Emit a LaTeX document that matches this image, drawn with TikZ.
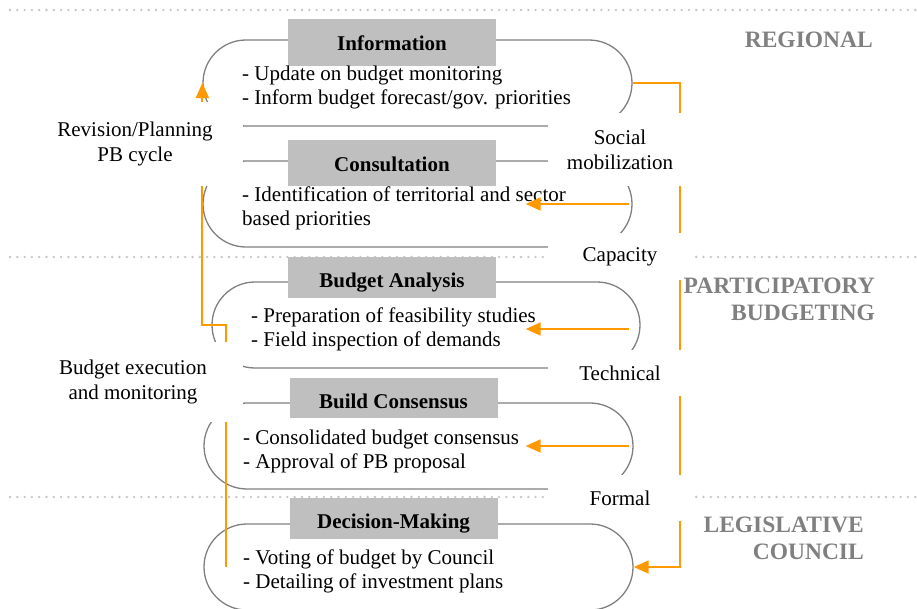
\documentclass[tikz,border=0pt]{standalone}
\usepackage{fontspec}
\setmainfont{Liberation Serif}
\usetikzlibrary{arrows.meta,shapes.misc}

\definecolor{pborange}{HTML}{FF9900}
\definecolor{pbgray}{HTML}{808080}
\definecolor{titlegray}{HTML}{BFBFBF}
\definecolor{dotgray}{HTML}{C4C4C4}

\tikzset{
  capsule/.style={rounded rectangle, draw=pbgray, line width=1.3pt,
    minimum width=429pt, minimum height=86pt, inner sep=0pt},
  titlebox/.style={fill=titlegray, minimum width=208pt, inner sep=0pt,
    text height=21pt, text depth=5pt,
    font=\fontsize{21}{24}\selectfont\bfseries},
  body/.style={anchor=west, align=left, inner sep=0pt,
    font=\fontsize{21}{24}\selectfont},
  cover/.style={fill=white, align=center, inner sep=0pt, minimum width=145pt,
    font=\fontsize{21}{25}\selectfont},
  level/.style={anchor=east, align=right, inner sep=0pt, text=pbgray,
    font=\fontsize{23.5}{27}\selectfont\bfseries},
  flow/.style={draw=pborange, line width=1.8pt},
  tip/.style={-{Triangle[length=15pt,width=13pt]}},
  separator/.style={dotgray, line width=2.6pt, line cap=round,
    dash pattern=on 0pt off 7.3pt},
}

\begin{document}
\begin{tikzpicture}[x=1pt,y=-1pt]
\useasboundingbox (0,0) rectangle (917,608);

% level separators
\draw[separator] (10,10) -- (917,10);
\draw[separator] (10,257) -- (917,257);
\draw[separator] (10,497) -- (917,497);

% stages
\node[capsule] (info) at (417.5,83) {};
\node[capsule] (consult) at (417.5,204) {};
\node[capsule, minimum width=428pt] (analysis) at (426,325) {};
\node[capsule] (consensus) at (418.5,446) {};
\node[capsule] (decision) at (418.5,567) {};

\node[titlebox, minimum height=47pt] (infotitle) at (392,42.5) {Information};
\node[titlebox, minimum height=46pt] (consulttitle) at (392,163) {Consultation};
\node[titlebox, minimum height=41pt, text height=24pt] (analysistitle) at (392,277.5) {Budget Analysis};
\node[titlebox, minimum height=40pt, text height=25pt] (consensustitle) at (393.5,398) {Build Consensus};
\node[titlebox, minimum height=41pt, text height=24pt] (decisiontitle) at (393.5,518.5) {Decision-Making};

\node[body] (infotext) at (242,87) {- Update on budget monitoring\\- Inform budget forecast/gov. priorities};
\node[body] (consulttext) at (242,208.5) {- Identification of territorial and sector\\based priorities};
\node[body] (analysistext) at (251,329) {- Preparation of feasibility studies\\- Field inspection of demands};
\node[body] (consensustext) at (243,451) {- Consolidated budget consensus\\- Approval of PB proposal};
\node[body] (decisiontext) at (243,571) {- Voting of budget by Council\\- Detailing of investment plans};

% right rail
\coordinate (railtop) at (680,83);
\coordinate (railbot) at (680,567);
\draw[flow, tip] (info.east) -- (railtop) -- (railbot) -- (decision.east);
\draw[flow, tip] ([xshift=-4pt]consult.east) -- ([xshift=-107pt]consult.east);
\draw[flow, tip] ([xshift=-12pt,yshift=-4pt]analysis.east) -- ([xshift=-115pt,yshift=-4pt]analysis.east);
\draw[flow, tip] ([xshift=-5pt]consensus.east) -- ([xshift=-108pt]consensus.east);

% left rail
\coordinate (execbot) at (226,567);
\coordinate (execbend) at (226,325);
\draw[flow, tip] (execbot) -- (execbend) -| (info.west);

% side labels
\node[cover, minimum width=216pt, minimum height=84pt] (revision) at (135,144) {Revision/Planning\\PB cycle};
\node[cover, minimum width=220pt, minimum height=80pt] (execution) at (133,382) {Budget execution\\and monitoring};
\node[cover, minimum height=73pt] (social) at (620,149.5) {Social\\mobilization};
\node[cover, minimum height=47pt] (capacity) at (620,256.5) {Capacity};
\node[cover, minimum height=46pt] (technical) at (620,373) {Technical};
\node[cover, minimum height=46pt] (formal) at (620,498) {Formal};

\node[level] (regional) at (873,40) {REGIONAL};
\node[level] (pb) at (875,299.5) {PARTICIPATORY\\BUDGETING};
\node[level] (council) at (864,538.5) {LEGISLATIVE\\COUNCIL};

\end{tikzpicture}
\end{document}
